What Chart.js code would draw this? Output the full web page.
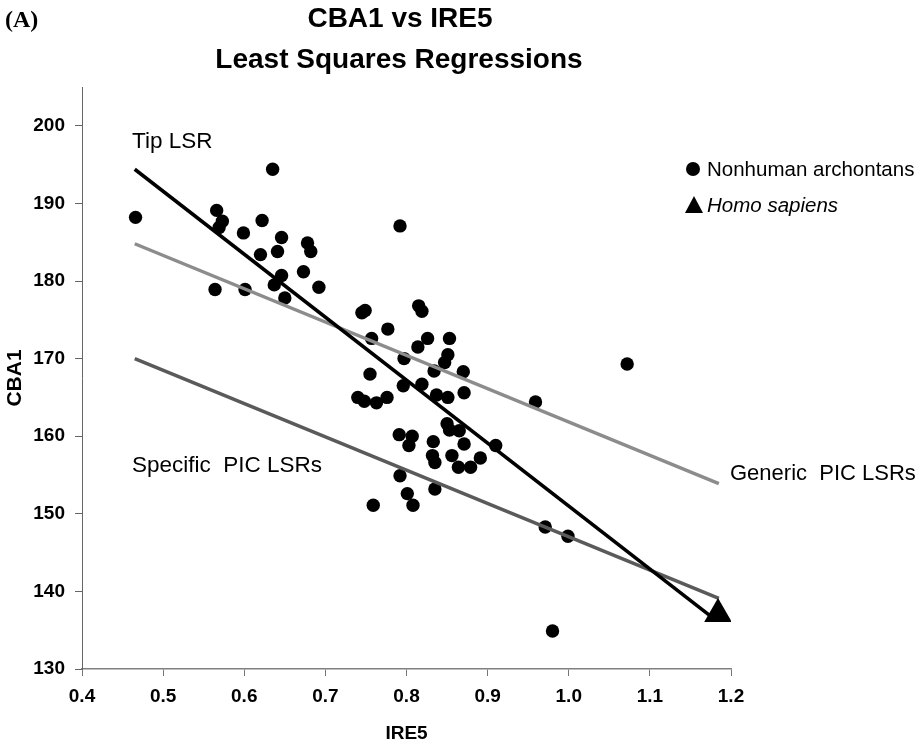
<!DOCTYPE html>
<html>
<head>
<meta charset="utf-8">
<script src="https://cdn.jsdelivr.net/npm/chart.js@4"></script>
<style>
  html, body { margin: 0; padding: 0; background: #fff; }
</style>
</head>
<body>
<canvas id="chart" width="923" height="747"></canvas>
<script>
// Nonhuman archontans (IRE5, CBA1)
const archIRE5 = [0.466, 0.635, 0.566, 0.573, 0.569, 0.599, 0.622, 0.646, 0.678, 0.682,
    0.641, 0.620, 0.792, 0.646, 0.637, 0.673, 0.692, 0.564, 0.601, 0.650,
    0.745, 0.749, 0.815, 0.819, 0.777, 0.757, 0.826, 0.853, 0.814, 0.797,
    0.851, 0.847, 0.834, 0.870, 0.755, 0.796, 0.819, 0.837, 0.851, 0.871,
    0.959, 1.072, 0.740, 0.748, 0.763, 0.776, 0.850, 0.853, 0.865, 0.791,
    0.807, 0.803, 0.833, 0.871, 0.910, 0.832, 0.835, 0.856, 0.864, 0.879,
    0.891, 0.792, 0.835, 0.801, 0.759, 0.808, 0.971, 0.999, 0.980];
const archCBA1 = [188.2, 194.4, 189.1, 187.7, 186.9, 186.2, 187.8, 185.6, 184.9, 183.8,
    183.8, 183.4, 187.1, 180.7, 179.5, 181.2, 179.2, 178.9, 178.9, 177.8,
    175.9, 176.2, 176.8, 176.1, 173.8, 172.6, 172.6, 172.6, 171.5, 170.0,
    170.5, 169.5, 168.4, 168.3, 168.0, 166.5, 166.7, 165.3, 165.0, 165.6,
    164.4, 169.3, 165.0, 164.5, 164.3, 165.0, 161.6, 160.8, 160.7, 160.2,
    160.0, 158.8, 159.3, 159.0, 158.8, 157.5, 156.6, 157.5, 156.0, 156.0,
    157.2, 154.9, 153.2, 152.6, 151.1, 151.1, 148.3, 147.1, 134.9];

// Homo sapiens
const homoIRE5 = [1.184];
const homoCBA1 = [137.1];

// regression lines (end points)
const tipX = [0.465, 1.180];
const tipY = [194.4, 136.4];
const genericX = [0.465, 1.185];
const genericY = [184.8, 153.9];
const specificX = [0.465, 1.185];
const specificY = [170.0, 139.1];

const xTicks = [0.4, 0.5, 0.6, 0.7, 0.8, 0.9, 1.0, 1.1, 1.2];
const yTicks = [130, 140, 150, 160, 170, 180, 190, 200];

const pts = (xs, ys) => xs.map((x, i) => ({ x: x, y: ys[i] }));

const textPlugin = {
    id: "texts",
    afterDraw(chart) {
        const ctx = chart.ctx;
        ctx.save();
        ctx.fillStyle = "#000";
        ctx.textBaseline = "middle";

        // panel letter
        ctx.textAlign = "left";
        ctx.font = "bold 24px 'Liberation Serif'";
        ctx.fillText("(A)", 5, 21);

        // title
        ctx.textAlign = "center";
        ctx.font = "bold 28px 'Liberation Sans'";
        ctx.fillText("CBA1 vs IRE5", 400, 19);
        ctx.fillText("Least Squares Regressions", 399, 60);

        // line labels
        ctx.textAlign = "left";
        ctx.font = "22.5px 'Liberation Sans'";
        ctx.fillText("Tip LSR", 132, 142);
        ctx.fillText("Specific  PIC LSRs", 132, 466);
        ctx.font = "22px 'Liberation Sans'";
        ctx.fillText("Generic  PIC LSRs", 730, 474);

        // legend
        ctx.beginPath();
        ctx.arc(693, 169, 7, 0, Math.PI * 2);
        ctx.fill();
        ctx.beginPath();
        ctx.moveTo(694, 196);
        ctx.lineTo(703, 213);
        ctx.lineTo(685, 213);
        ctx.closePath();
        ctx.fill();
        ctx.font = "20.5px 'Liberation Sans'";
        ctx.fillText("Nonhuman archontans", 707, 170);
        ctx.font = "italic 20.5px 'Liberation Sans'";
        ctx.fillText("Homo sapiens", 707, 206);
        ctx.restore();
    }
};

new Chart(document.getElementById("chart"), {
    type: "scatter",
    data: {
        datasets: [
            {
                label: "Homo sapiens",
                data: pts(homoIRE5, homoCBA1),
                pointStyle: "triangle",
                pointRadius: 16,
                backgroundColor: "#000",
                borderWidth: 0,
                order: -1
            },
            {
                label: "Tip LSR",
                type: "line",
                data: pts(tipX, tipY),
                borderColor: "#000",
                borderWidth: 3.5,
                pointRadius: 0,
                order: 0
            },
            {
                label: "Generic PIC LSRs",
                type: "line",
                data: pts(genericX, genericY),
                borderColor: "#8c8c8c",
                borderWidth: 3.5,
                pointRadius: 0,
                order: 0
            },
            {
                label: "Specific PIC LSRs",
                type: "line",
                data: pts(specificX, specificY),
                borderColor: "#5a5a5a",
                borderWidth: 3.5,
                pointRadius: 0,
                order: 0
            },
            {
                label: "Nonhuman archontans",
                data: pts(archIRE5, archCBA1),
                pointStyle: "circle",
                pointRadius: 6.7,
                backgroundColor: "#000",
                borderWidth: 0,
                order: 1
            }
        ]
    },
    options: {
        responsive: false,
        animation: false,
        layout: { padding: { top: 87, right: 192, left: 0, bottom: 0 } },
        plugins: {
            legend: { display: false },
            tooltip: { enabled: false }
        },
        scales: {
            x: {
                type: "linear",
                min: 0.4,
                max: 1.2,
                afterFit: s => { s.height = 78; },
                afterBuildTicks: s => { s.ticks = xTicks.map(v => ({ value: v })); },
                grid: { drawOnChartArea: false, drawTicks: true, tickLength: 7, color: "#777" },
                border: { color: "#808080", width: 1.5 },
                ticks: {
                    color: "#000",
                    padding: 9,
                    font: { family: "'Liberation Sans'", size: 19, weight: "bold" },
                    callback: v => v.toFixed(1)
                },
                title: {
                    display: true,
                    text: "IRE5",
                    color: "#000",
                    padding: { top: 0, bottom: 2 },
                    font: { family: "'Liberation Sans'", size: 19, weight: "bold" }
                }
            },
            y: {
                type: "linear",
                min: 130,
                max: 205,
                bounds: "data",
                afterFit: s => { s.width = 82; },
                afterBuildTicks: s => { s.ticks = yTicks.map(v => ({ value: v })); },
                grid: { drawOnChartArea: false, drawTicks: true, tickLength: 7, color: "#666" },
                border: { color: "#666", width: 1 },
                ticks: {
                    color: "#000",
                    padding: 10,
                    font: { family: "'Liberation Sans'", size: 19, weight: "bold" }
                },
                title: {
                    display: true,
                    text: "CBA1",
                    color: "#000",
                    padding: { top: 3, bottom: 0 },
                    font: { family: "'Liberation Sans'", size: 21, weight: "bold" }
                }
            }
        }
    },
    plugins: [textPlugin]
});
</script>
</body>
</html>
